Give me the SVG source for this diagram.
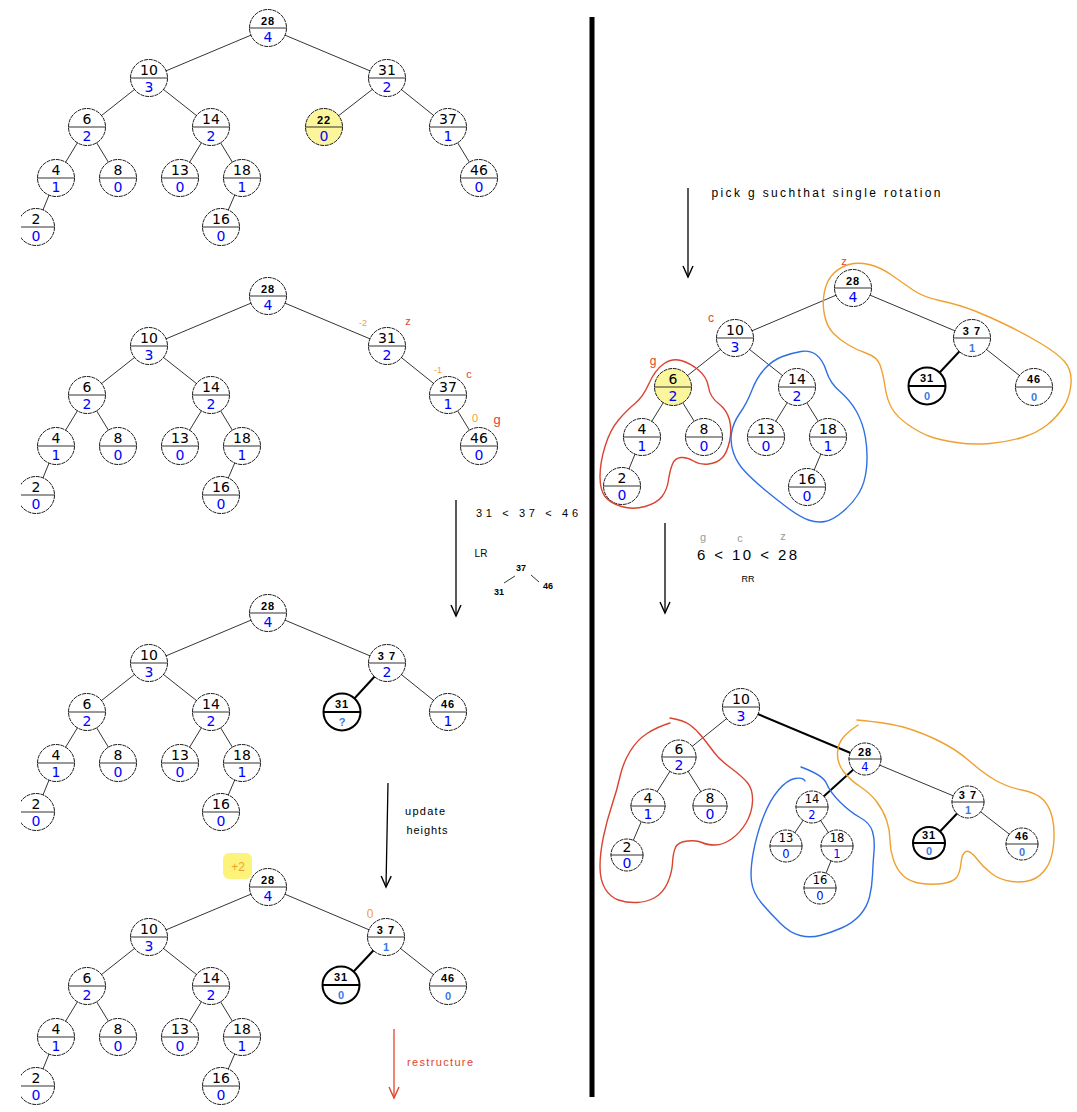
<svg xmlns="http://www.w3.org/2000/svg" width="1077" height="1112" viewBox="0 0 1077 1112">
<style>
.node circle{fill:#fff;stroke:#000;stroke-width:0.9;stroke-dasharray:4 0.8}
.node line{stroke:#333;stroke-width:1.1}
.node.bold circle{stroke-width:2;stroke-dasharray:none}
.node.bold line{stroke:#000;stroke-width:2}
.node.yel circle{fill:#fbf59c}
.node text{text-anchor:middle}
.k{font-family:"DejaVu Sans",sans-serif;font-size:14px;fill:#000}
.h{font-family:"DejaVu Sans",sans-serif;font-size:14px;fill:#0000ff}
.ks{font-family:"DejaVu Sans",sans-serif;font-size:11.5px;fill:#000}
.hs{font-family:"DejaVu Sans",sans-serif;font-size:11.5px;fill:#0000ff}
.kh{font-family:"Liberation Sans",sans-serif;font-weight:bold;font-size:11px;fill:#000;letter-spacing:1px}
.hh{font-family:"Liberation Sans",sans-serif;font-weight:bold;font-size:11px;fill:#3a78e6}
.edges line{stroke:#000;stroke-width:0.8}
.edges line.thick{stroke-width:2}
.ann{font-family:"Liberation Sans",sans-serif;text-anchor:middle}
.blk{fill:#000}
.red{fill:#e0452f}
.org{fill:#f0a030}
.gry{fill:#9a9a9a}
.blob{fill:none;stroke-width:1.4;stroke-linecap:round;stroke-linejoin:round}
.arrow{stroke:#000;stroke-width:1.3;fill:none}
</style>
<defs>
<marker id="ah" viewBox="-14 -8 16 16" markerWidth="16" markerHeight="16" refX="0" refY="0" orient="auto" markerUnits="userSpaceOnUse">
<path d="M-11,-5 L0,0 L-11,5" fill="none" stroke="#000" stroke-width="1.4"/>
</marker>
<marker id="ahr" viewBox="-14 -8 16 16" markerWidth="16" markerHeight="16" refX="0" refY="0" orient="auto" markerUnits="userSpaceOnUse">
<path d="M-11,-5 L0,0 L-11,5" fill="none" stroke="#e0452f" stroke-width="1.4"/>
</marker>
<clipPath id="lc"><rect x="-15" y="-30" width="60" height="60"/></clipPath>
</defs>

<!-- divider -->
<line x1="592" y1="17" x2="592" y2="1097" stroke="#000" stroke-width="5"/>

<g id="connectors" class="edges">
<!-- tree 1 -->
<line x1="268" y1="28" x2="149" y2="78"/><line x1="268" y1="28" x2="387" y2="78"/>
<line x1="149" y1="78" x2="87" y2="127"/><line x1="149" y1="78" x2="211" y2="127"/>
<line x1="387" y1="78" x2="324" y2="127"/><line x1="387" y1="78" x2="448" y2="127"/>
<line x1="87" y1="127" x2="56" y2="178"/><line x1="87" y1="127" x2="118" y2="178"/>
<line x1="56" y1="178" x2="36" y2="227"/><line x1="211" y1="127" x2="180" y2="178"/>
<line x1="211" y1="127" x2="242" y2="178"/><line x1="242" y1="178" x2="221" y2="227"/>
<line x1="448" y1="127" x2="479" y2="178"/>
<!-- tree 2 -->
<line x1="268" y1="296" x2="149" y2="346"/><line x1="268" y1="296" x2="387" y2="346"/>
<line x1="149" y1="346" x2="87" y2="395"/><line x1="149" y1="346" x2="211" y2="395"/>
<line x1="387" y1="346" x2="448" y2="395"/>
<line x1="87" y1="395" x2="56" y2="446"/><line x1="87" y1="395" x2="118" y2="446"/>
<line x1="56" y1="446" x2="36" y2="495"/><line x1="211" y1="395" x2="180" y2="446"/>
<line x1="211" y1="395" x2="242" y2="446"/><line x1="242" y1="446" x2="221" y2="495"/>
<line x1="448" y1="395" x2="479" y2="446"/>
<!-- tree 3 -->
<line x1="268" y1="613" x2="149" y2="663"/><line x1="268" y1="613" x2="387" y2="663"/>
<line x1="149" y1="663" x2="87" y2="712"/><line x1="149" y1="663" x2="211" y2="712"/>
<line class="thick" x1="387" y1="663" x2="342" y2="712"/><line x1="387" y1="663" x2="448" y2="712"/>
<line x1="87" y1="712" x2="56" y2="763"/><line x1="87" y1="712" x2="118" y2="763"/>
<line x1="56" y1="763" x2="36" y2="812"/><line x1="211" y1="712" x2="180" y2="763"/>
<line x1="211" y1="712" x2="242" y2="763"/><line x1="242" y1="763" x2="221" y2="812"/>
<!-- tree 4 -->
<line x1="268" y1="887" x2="149" y2="937"/><line x1="268" y1="887" x2="386" y2="937"/>
<line x1="149" y1="937" x2="87" y2="986"/><line x1="149" y1="937" x2="211" y2="986"/>
<line class="thick" x1="386" y1="937" x2="341" y2="985"/><line x1="386" y1="937" x2="448" y2="986"/>
<line x1="87" y1="986" x2="56" y2="1037"/><line x1="87" y1="986" x2="118" y2="1037"/>
<line x1="56" y1="1037" x2="36" y2="1086"/><line x1="211" y1="986" x2="180" y2="1037"/>
<line x1="211" y1="986" x2="242" y2="1037"/><line x1="242" y1="1037" x2="221" y2="1086"/>
<!-- right top -->
<line x1="853" y1="288" x2="735" y2="338"/><line x1="853" y1="288" x2="972" y2="338"/>
<line x1="735" y1="338" x2="673" y2="387"/><line x1="735" y1="338" x2="797" y2="387"/>
<line class="thick" x1="972" y1="338" x2="927" y2="386"/><line x1="972" y1="338" x2="1034" y2="387"/>
<line x1="673" y1="387" x2="642" y2="437"/><line x1="673" y1="387" x2="704" y2="437"/>
<line x1="642" y1="437" x2="622" y2="486"/><line x1="797" y1="387" x2="766" y2="437"/>
<line x1="797" y1="387" x2="828" y2="437"/><line x1="828" y1="437" x2="807" y2="487"/>
<!-- right bottom -->
<line x1="741" y1="707" x2="679" y2="757"/><line class="thick" x1="741" y1="707" x2="865" y2="759"/>
<line class="thick" x1="865" y1="759" x2="812" y2="807"/><line x1="865" y1="759" x2="968" y2="802"/>
<line class="thick" x1="968" y1="802" x2="929" y2="843"/><line x1="968" y1="802" x2="1022" y2="844"/>
<line x1="679" y1="757" x2="648" y2="806"/><line x1="679" y1="757" x2="710" y2="806"/>
<line x1="648" y1="806" x2="627" y2="855"/><line x1="812" y1="807" x2="786" y2="846"/>
<line x1="812" y1="807" x2="837" y2="846"/><line x1="837" y1="846" x2="820" y2="888"/>
<!-- mini tree -->
<line x1="504" y1="583" x2="515" y2="576"/><line x1="531" y1="575" x2="539" y2="582"/>
</g>

<!-- Tree 1 -->
<g id="a28" class="node" transform="translate(268,28)"><circle r="18.5"/><line x1="-19" x2="19"/><text class="kh" y="-3">28</text><text class="h" y="14">4</text></g>
<g id="a10" class="node" transform="translate(149,78)"><circle r="18.5"/><line x1="-19" x2="19"/><text class="k" y="-3.5">10</text><text class="h" y="14">3</text></g>
<g id="a31" class="node" transform="translate(387,78)"><circle r="18.5"/><line x1="-19" x2="19"/><text class="k" y="-3.5">31</text><text class="h" y="14">2</text></g>
<g id="a6" class="node" transform="translate(87,127)"><circle r="18.5"/><line x1="-19" x2="19"/><text class="k" y="-3.5">6</text><text class="h" y="14">2</text></g>
<g id="a14" class="node" transform="translate(211,127)"><circle r="18.5"/><line x1="-19" x2="19"/><text class="k" y="-3.5">14</text><text class="h" y="14">2</text></g>
<g id="a22" class="node yel" transform="translate(324,127)"><circle r="18.5"/><line x1="-19" x2="19"/><text class="kh" y="-3">22</text><text class="h" y="14">0</text></g>
<g id="a37" class="node" transform="translate(448,127)"><circle r="18.5"/><line x1="-19" x2="19"/><text class="k" y="-3.5">37</text><text class="h" y="14">1</text></g>
<g id="a4" class="node" transform="translate(56,178)"><circle r="18.5"/><line x1="-19" x2="19"/><text class="k" y="-3.5">4</text><text class="h" y="14">1</text></g>
<g id="a8" class="node" transform="translate(118,178)"><circle r="18.5"/><line x1="-19" x2="19"/><text class="k" y="-3.5">8</text><text class="h" y="14">0</text></g>
<g id="a13" class="node" transform="translate(180,178)"><circle r="18.5"/><line x1="-19" x2="19"/><text class="k" y="-3.5">13</text><text class="h" y="14">0</text></g>
<g id="a18" class="node" transform="translate(242,178)"><circle r="18.5"/><line x1="-19" x2="19"/><text class="k" y="-3.5">18</text><text class="h" y="14">1</text></g>
<g id="a46" class="node" transform="translate(479,178)"><circle r="18.5"/><line x1="-19" x2="19"/><text class="k" y="-3.5">46</text><text class="h" y="14">0</text></g>
<g id="a2" class="node" transform="translate(36,227)" clip-path="url(#lc)"><circle r="18.5"/><line x1="-19" x2="19"/><text class="k" y="-3.5">2</text><text class="h" y="14">0</text></g>
<g id="a16" class="node" transform="translate(221,227)"><circle r="18.5"/><line x1="-19" x2="19"/><text class="k" y="-3.5">16</text><text class="h" y="14">0</text></g>

<!-- Tree 2 -->
<g id="b28" class="node" transform="translate(268,296)"><circle r="18.5"/><line x1="-19" x2="19"/><text class="kh" y="-3">28</text><text class="h" y="14">4</text></g>
<g id="b10" class="node" transform="translate(149,346)"><circle r="18.5"/><line x1="-19" x2="19"/><text class="k" y="-3.5">10</text><text class="h" y="14">3</text></g>
<g id="b31" class="node" transform="translate(387,346)"><circle r="18.5"/><line x1="-19" x2="19"/><text class="k" y="-3.5">31</text><text class="h" y="14">2</text></g>
<g id="b6" class="node" transform="translate(87,395)"><circle r="18.5"/><line x1="-19" x2="19"/><text class="k" y="-3.5">6</text><text class="h" y="14">2</text></g>
<g id="b14" class="node" transform="translate(211,395)"><circle r="18.5"/><line x1="-19" x2="19"/><text class="k" y="-3.5">14</text><text class="h" y="14">2</text></g>
<g id="b37" class="node" transform="translate(448,395)"><circle r="18.5"/><line x1="-19" x2="19"/><text class="k" y="-3.5">37</text><text class="h" y="14">1</text></g>
<g id="b4" class="node" transform="translate(56,446)"><circle r="18.5"/><line x1="-19" x2="19"/><text class="k" y="-3.5">4</text><text class="h" y="14">1</text></g>
<g id="b8" class="node" transform="translate(118,446)"><circle r="18.5"/><line x1="-19" x2="19"/><text class="k" y="-3.5">8</text><text class="h" y="14">0</text></g>
<g id="b13" class="node" transform="translate(180,446)"><circle r="18.5"/><line x1="-19" x2="19"/><text class="k" y="-3.5">13</text><text class="h" y="14">0</text></g>
<g id="b18" class="node" transform="translate(242,446)"><circle r="18.5"/><line x1="-19" x2="19"/><text class="k" y="-3.5">18</text><text class="h" y="14">1</text></g>
<g id="b46" class="node" transform="translate(479,446)"><circle r="18.5"/><line x1="-19" x2="19"/><text class="k" y="-3.5">46</text><text class="h" y="14">0</text></g>
<g id="b2" class="node" transform="translate(36,495)" clip-path="url(#lc)"><circle r="18.5"/><line x1="-19" x2="19"/><text class="k" y="-3.5">2</text><text class="h" y="14">0</text></g>
<g id="b16" class="node" transform="translate(221,495)"><circle r="18.5"/><line x1="-19" x2="19"/><text class="k" y="-3.5">16</text><text class="h" y="14">0</text></g>

<!-- Tree 3 -->
<g id="c28" class="node" transform="translate(268,613)"><circle r="18.5"/><line x1="-19" x2="19"/><text class="kh" y="-3">28</text><text class="h" y="14">4</text></g>
<g id="c10" class="node" transform="translate(149,663)"><circle r="18.5"/><line x1="-19" x2="19"/><text class="k" y="-3.5">10</text><text class="h" y="14">3</text></g>
<g id="c37" class="node" transform="translate(387,663)"><circle r="18.5"/><line x1="-19" x2="19"/><text class="kh" y="-3">3 7</text><text class="h" y="14">2</text></g>
<g id="c6" class="node" transform="translate(87,712)"><circle r="18.5"/><line x1="-19" x2="19"/><text class="k" y="-3.5">6</text><text class="h" y="14">2</text></g>
<g id="c14" class="node" transform="translate(211,712)"><circle r="18.5"/><line x1="-19" x2="19"/><text class="k" y="-3.5">14</text><text class="h" y="14">2</text></g>
<g id="c31" class="node bold" transform="translate(342,712)"><circle r="18.5"/><line x1="-19" x2="19"/><text class="kh" y="-4">31</text><text class="hh" y="14">?</text></g>
<g id="c46" class="node" transform="translate(448,712)"><circle r="18.5"/><line x1="-19" x2="19"/><text class="kh" y="-4">46</text><text class="h" y="14">1</text></g>
<g id="c4" class="node" transform="translate(56,763)"><circle r="18.5"/><line x1="-19" x2="19"/><text class="k" y="-3.5">4</text><text class="h" y="14">1</text></g>
<g id="c8" class="node" transform="translate(118,763)"><circle r="18.5"/><line x1="-19" x2="19"/><text class="k" y="-3.5">8</text><text class="h" y="14">0</text></g>
<g id="c13" class="node" transform="translate(180,763)"><circle r="18.5"/><line x1="-19" x2="19"/><text class="k" y="-3.5">13</text><text class="h" y="14">0</text></g>
<g id="c18" class="node" transform="translate(242,763)"><circle r="18.5"/><line x1="-19" x2="19"/><text class="k" y="-3.5">18</text><text class="h" y="14">1</text></g>
<g id="c2" class="node" transform="translate(36,812)" clip-path="url(#lc)"><circle r="18.5"/><line x1="-19" x2="19"/><text class="k" y="-3.5">2</text><text class="h" y="14">0</text></g>
<g id="c16" class="node" transform="translate(221,812)"><circle r="18.5"/><line x1="-19" x2="19"/><text class="k" y="-3.5">16</text><text class="h" y="14">0</text></g>

<!-- Tree 4 -->
<g id="d28" class="node" transform="translate(268,887)"><circle r="18.5"/><line x1="-19" x2="19"/><text class="kh" y="-3">28</text><text class="h" y="14">4</text></g>
<g id="d10" class="node" transform="translate(149,937)"><circle r="18.5"/><line x1="-19" x2="19"/><text class="k" y="-3.5">10</text><text class="h" y="14">3</text></g>
<g id="d37" class="node" transform="translate(386,937)"><circle r="18.5"/><line x1="-19" x2="19"/><text class="kh" y="-3">3 7</text><text class="hh" y="14">1</text></g>
<g id="d6" class="node" transform="translate(87,986)"><circle r="18.5"/><line x1="-19" x2="19"/><text class="k" y="-3.5">6</text><text class="h" y="14">2</text></g>
<g id="d14" class="node" transform="translate(211,986)"><circle r="18.5"/><line x1="-19" x2="19"/><text class="k" y="-3.5">14</text><text class="h" y="14">2</text></g>
<g id="d31" class="node bold" transform="translate(341,985)"><circle r="18.5"/><line x1="-19" x2="19"/><text class="kh" y="-4">31</text><text class="hh" y="14">0</text></g>
<g id="d46" class="node" transform="translate(448,986)"><circle r="18.5"/><line x1="-19" x2="19"/><text class="kh" y="-4">46</text><text class="hh" y="14">0</text></g>
<g id="d4" class="node" transform="translate(56,1037)"><circle r="18.5"/><line x1="-19" x2="19"/><text class="k" y="-3.5">4</text><text class="h" y="14">1</text></g>
<g id="d8" class="node" transform="translate(118,1037)"><circle r="18.5"/><line x1="-19" x2="19"/><text class="k" y="-3.5">8</text><text class="h" y="14">0</text></g>
<g id="d13" class="node" transform="translate(180,1037)"><circle r="18.5"/><line x1="-19" x2="19"/><text class="k" y="-3.5">13</text><text class="h" y="14">0</text></g>
<g id="d18" class="node" transform="translate(242,1037)"><circle r="18.5"/><line x1="-19" x2="19"/><text class="k" y="-3.5">18</text><text class="h" y="14">1</text></g>
<g id="d2" class="node" transform="translate(36,1086)" clip-path="url(#lc)"><circle r="18.5"/><line x1="-19" x2="19"/><text class="k" y="-3.5">2</text><text class="h" y="14">0</text></g>
<g id="d16" class="node" transform="translate(221,1086)"><circle r="18.5"/><line x1="-19" x2="19"/><text class="k" y="-3.5">16</text><text class="h" y="14">0</text></g>

<!-- Right top tree -->
<g id="e28" class="node" transform="translate(853,288)"><circle r="18.5"/><line x1="-19" x2="19"/><text class="kh" y="-3">28</text><text class="h" y="14">4</text></g>
<g id="e10" class="node" transform="translate(735,338)"><circle r="18.5"/><line x1="-19" x2="19"/><text class="k" y="-3.5">10</text><text class="h" y="14">3</text></g>
<g id="e37" class="node" transform="translate(972,338)"><circle r="18.5"/><line x1="-19" x2="19"/><text class="kh" y="-3">3 7</text><text class="hh" y="14">1</text></g>
<g id="e6" class="node yel" transform="translate(673,387)"><circle r="18.5"/><line x1="-19" x2="19"/><text class="k" y="-3.5">6</text><text class="h" y="14">2</text></g>
<g id="e14" class="node" transform="translate(797,387)"><circle r="18.5"/><line x1="-19" x2="19"/><text class="k" y="-3.5">14</text><text class="h" y="14">2</text></g>
<g id="e31" class="node bold" transform="translate(927,386)"><circle r="18.5"/><line x1="-19" x2="19"/><text class="kh" y="-4">31</text><text class="hh" y="14">0</text></g>
<g id="e46" class="node" transform="translate(1034,387)"><circle r="18.5"/><line x1="-19" x2="19"/><text class="kh" y="-4">46</text><text class="hh" y="14">0</text></g>
<g id="e4" class="node" transform="translate(642,437)"><circle r="18.5"/><line x1="-19" x2="19"/><text class="k" y="-3.5">4</text><text class="h" y="14">1</text></g>
<g id="e8" class="node" transform="translate(704,437)"><circle r="18.5"/><line x1="-19" x2="19"/><text class="k" y="-3.5">8</text><text class="h" y="14">0</text></g>
<g id="e13" class="node" transform="translate(766,437)"><circle r="18.5"/><line x1="-19" x2="19"/><text class="k" y="-3.5">13</text><text class="h" y="14">0</text></g>
<g id="e18" class="node" transform="translate(828,437)"><circle r="18.5"/><line x1="-19" x2="19"/><text class="k" y="-3.5">18</text><text class="h" y="14">1</text></g>
<g id="e2" class="node" transform="translate(622,486)"><circle r="18.5"/><line x1="-19" x2="19"/><text class="k" y="-3.5">2</text><text class="h" y="14">0</text></g>
<g id="e16" class="node" transform="translate(807,487)"><circle r="18.5"/><line x1="-19" x2="19"/><text class="k" y="-3.5">16</text><text class="h" y="14">0</text></g>

<!-- Right bottom tree -->
<g id="f10" class="node" transform="translate(741,707)"><circle r="18.5"/><line x1="-19" x2="19"/><text class="k" y="-3.5">10</text><text class="h" y="14">3</text></g>
<g id="f6" class="node" transform="translate(679,757)"><circle r="17"/><line x1="-18" x2="18"/><text class="k" y="-3.5">6</text><text class="h" y="13">2</text></g>
<g id="f28" class="node" transform="translate(865,759)"><circle r="16"/><line x1="-16.5" x2="16.5"/><text class="kh" y="-3">28</text><text class="hs" y="12">4</text></g>
<g id="f4" class="node" transform="translate(648,806)"><circle r="17"/><line x1="-18" x2="18"/><text class="k" y="-3.5">4</text><text class="h" y="13">1</text></g>
<g id="f8" class="node" transform="translate(710,806)"><circle r="17"/><line x1="-18" x2="18"/><text class="k" y="-3.5">8</text><text class="h" y="13">0</text></g>
<g id="f14" class="node" transform="translate(812,807)"><circle r="16"/><line x1="-16.5" x2="16.5"/><text class="ks" y="-4">14</text><text class="hs" y="12">2</text></g>
<g id="f37" class="node" transform="translate(968,802)"><circle r="16"/><line x1="-16.5" x2="16.5"/><text class="kh" y="-3">3 7</text><text class="hh" y="12">1</text></g>
<g id="f2" class="node" transform="translate(627,855)"><circle r="16"/><line x1="-16.5" x2="16.5"/><text class="k" y="-3.5">2</text><text class="h" y="13">0</text></g>
<g id="f13" class="node" transform="translate(786,846)"><circle r="16"/><line x1="-16.5" x2="16.5"/><text class="ks" y="-4">13</text><text class="hs" y="12">0</text></g>
<g id="f18" class="node" transform="translate(837,846)"><circle r="16"/><line x1="-16.5" x2="16.5"/><text class="ks" y="-4">18</text><text class="hs" y="12">1</text></g>
<g id="f31" class="node bold" transform="translate(929,843)"><circle r="16"/><line x1="-16.5" x2="16.5"/><text class="kh" y="-4">31</text><text class="hh" y="12">0</text></g>
<g id="f46" class="node" transform="translate(1022,844)"><circle r="16"/><line x1="-16.5" x2="16.5"/><text class="kh" y="-4">46</text><text class="hh" y="12">0</text></g>
<g id="f16" class="node" transform="translate(820,888)"><circle r="16"/><line x1="-16.5" x2="16.5"/><text class="ks" y="-4">16</text><text class="hs" y="12">0</text></g>

<!-- arrows -->
<g id="arrows">
<line class="arrow" x1="456" y1="500" x2="456" y2="616" marker-end="url(#ah)"/>
<line class="arrow" x1="388" y1="783" x2="386" y2="887" marker-end="url(#ah)"/>
<line class="arrow" x1="688" y1="188" x2="688" y2="277" marker-end="url(#ah)"/>
<line class="arrow" x1="665" y1="523" x2="665" y2="613" marker-end="url(#ah)"/>
<line x1="394" y1="1029" x2="394" y2="1098" stroke="#e0452f" stroke-width="1.3" marker-end="url(#ahr)"/>
</g>

<!-- blobs -->
<g id="groups">
<path class="blob" stroke="#d9432f" d="M681,360.5 Q690,363 698.5,370 Q707,377 708.5,387 Q710,397 718.5,403.5 Q727,410 729.5,420 Q732,430 729.5,441.5 Q727,453 722,458 Q717,463 708.5,464 Q700,465 693.5,461 Q687,457 681,457.5 Q675,458 672.5,464 Q670,470 668.5,480 Q667,490 662,496.5 Q657,503 645,506.5 Q633,510 621.5,506.5 Q610,503 605,496.5 Q600,490 600,476.5 Q600,463 605,446.5 Q610,430 618.5,420 Q627,410 635,403.5 Q643,397 649,383.5 Q655,370 663.5,364 Q672,358 681,360.5 Z"/>
<path class="blob" stroke="#2f6fe6" d="M801,351.5 Q810,350 816.5,355 Q823,360 826.5,371.5 Q830,383 840,391.5 Q850,400 856.5,411.5 Q863,423 865.5,438 Q868,453 866.5,468 Q865,483 859,493 Q853,503 843,511.5 Q833,520 825,521.5 Q817,523 808.5,520 Q800,517 788.5,508.5 Q777,500 765,490 Q753,480 745,471.5 Q737,463 733.5,453 Q730,443 731.5,433 Q733,423 740,413 Q747,403 752,390 Q757,377 765,368.5 Q773,360 782.5,356.5 Q792,353 801,351.5 Z"/>
<path class="blob" stroke="#f0a030" d="M869,264.5 Q880,267 891.5,275 Q903,283 913,290 Q923,297 941.5,301 Q960,305 975,311 Q990,317 1006.5,325 Q1023,333 1040,343 Q1057,353 1064.5,361.5 Q1072,370 1071,383.5 Q1070,397 1063.5,407 Q1057,417 1047,425 Q1037,433 1022,437.5 Q1007,442 990,443.5 Q973,445 956.5,442.5 Q940,440 930,436.5 Q920,433 908.5,425 Q897,417 892,408.5 Q887,400 885,386.5 Q883,373 880,365 Q877,357 867,353.5 Q857,350 848.5,345 Q840,340 833.5,333.5 Q827,327 824.5,315 Q822,303 824.5,291.5 Q827,280 833.5,273.5 Q840,267 849,264.5 Q858,262 869,264.5 Z"/>
<path class="blob" stroke="#d9432f" d="M670,723 Q657,727 647,733.5 Q637,740 630,751.5 Q623,763 620,776.5 Q617,790 612,805 Q607,820 603.5,836.5 Q600,853 600,866.5 Q600,880 605,888.5 Q610,897 618.5,900 Q627,903 637,902.5 Q647,902 655,897.5 Q663,893 667.5,883 Q672,873 672.5,863 Q673,853 675.5,847.5 Q678,842 687.5,841 Q697,840 702,842.5 Q707,845 715,845 Q723,845 731.5,839 Q740,833 746,823 Q752,813 752.5,801.5 Q753,790 748,783.5 Q743,777 731.5,768.5 Q720,760 715,753.5 Q710,747 703.5,738.5 Q697,730 690,725 Q683,720 670,718"/>
<path class="blob" stroke="#2f6fe6" d="M801,767 Q823,775 826.5,783.5 Q830,792 840,802 Q850,812 860,817.5 Q870,823 872.5,831.5 Q875,840 874,851.5 Q873,863 872.5,875 Q872,887 869.5,897 Q867,907 860,915 Q853,923 841.5,928 Q830,933 820,935.5 Q810,938 800,935.5 Q790,933 780,923 Q770,913 761.5,903 Q753,893 751.5,881.5 Q750,870 753.5,851.5 Q757,833 763.5,816.5 Q770,800 778.5,790 Q787,780 795,778.5 Q803,777 805,781"/>
<path class="blob" stroke="#f0a030" d="M857,720 Q890,723 906.5,728 Q923,733 940,741.5 Q957,750 970,761.5 Q983,773 995,780 Q1007,787 1022,790 Q1037,793 1043.5,800 Q1050,807 1052.5,818.5 Q1055,830 1053.5,845 Q1052,860 1046,868.5 Q1040,877 1031.5,880 Q1023,883 1011.5,881.5 Q1000,880 991.5,873.5 Q983,867 976.5,858.5 Q970,850 966,851.5 Q962,853 961,863 Q960,873 956.5,877.5 Q953,882 943,883.5 Q933,885 921.5,883.5 Q910,882 903.5,876 Q897,870 893.5,860 Q890,850 890,840 Q890,830 886.5,820 Q883,810 876.5,801.5 Q870,793 860,786.5 Q850,780 843.5,771.5 Q837,763 837.5,753 Q838,743 844,736.5 Q850,730 858,725"/>
</g>

<!-- annotations -->
<g id="annotations" class="ann">
<text class="org" x="363" y="326" font-size="9">-2</text>
<text class="red" x="408" y="325" font-size="11">z</text>
<text class="org" x="438" y="373" font-size="9">-1</text>
<text class="red" x="469" y="378" font-size="11">c</text>
<text class="org" x="475" y="422" font-size="11">0</text>
<text class="red" x="497" y="424" font-size="13">g</text>
<text class="blk" x="527" y="517" font-size="11" textLength="102" lengthAdjust="spacing">31 &lt; 37 &lt; 46</text>
<text class="blk" x="481" y="557" font-size="10">LR</text>
<text class="blk" x="521" y="571" font-size="9" font-weight="bold">37</text>
<text class="blk" x="499" y="595" font-size="9" font-weight="bold">31</text>
<text class="blk" x="548" y="589" font-size="9" font-weight="bold">46</text>
<text class="blk" x="425" y="815" font-size="11" textLength="40" lengthAdjust="spacing">update</text>
<text class="blk" x="427" y="834" font-size="11" textLength="41" lengthAdjust="spacing">heights</text>
<rect x="223" y="853" width="29" height="26" rx="6" fill="#fcf47a"/>
<text class="org" x="238" y="871" font-size="12">+2</text>
<text class="org" x="370" y="918" font-size="12">0</text>
<text class="red" x="440" y="1066" font-size="11" textLength="66" lengthAdjust="spacing">restructure</text>
<text class="blk" x="826" y="197" font-size="12" textLength="229" lengthAdjust="spacing">pick g suchthat single rotation</text>
<text class="red" x="844" y="265" font-size="11">z</text>
<text class="red" x="711" y="322" font-size="12">c</text>
<text class="red" x="653" y="365" font-size="12">g</text>
<text class="gry" x="703" y="541" font-size="11">g</text>
<text class="gry" x="740" y="542" font-size="11">c</text>
<text class="gry" x="783" y="540" font-size="11">z</text>
<text class="blk" x="747" y="560" font-size="15" textLength="100" lengthAdjust="spacing">6 &lt; 10 &lt; 28</text>
<text class="blk" x="748" y="582" font-size="9">RR</text>
</g>
</svg>
